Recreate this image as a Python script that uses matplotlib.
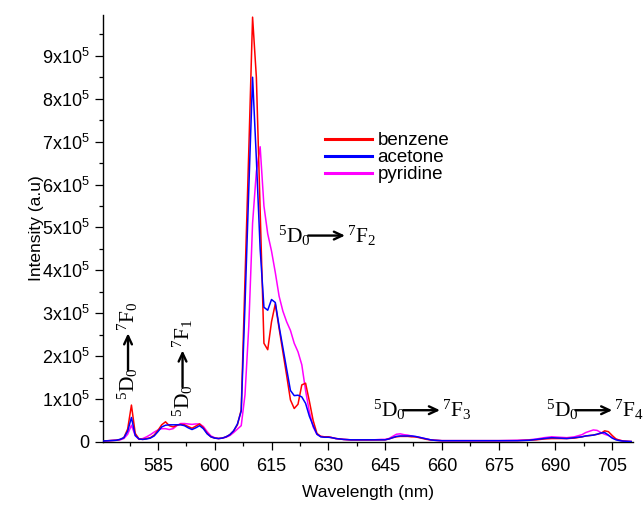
import matplotlib
matplotlib.use("Agg")
import matplotlib.pyplot as plt
from matplotlib.ticker import MultipleLocator, FixedLocator, FixedFormatter
from matplotlib.transforms import offset_copy

# emission spectra, intensity in units of 1e5
wavelength = [570, 572, 574, 575, 576, 577, 578, 579, 580,
              581, 582, 583, 584, 585, 586, 587, 588, 589, 590,
              591, 592, 593, 594, 595, 596, 597, 598, 599, 600,
              601, 602, 603, 604, 605, 606, 607, 608, 609, 610,
              611, 612, 613, 614, 615, 616, 617, 618, 619, 620,
              621, 622, 623, 624, 625, 626, 627, 628, 629, 630,
              631, 632, 634, 636, 638, 640, 642, 644,
              645, 646, 647, 648, 649, 650, 651, 652, 653, 654, 655, 656, 657, 658,
              660, 665, 670, 675, 680, 683, 685, 687, 689, 691, 693, 695, 697,
              698, 699, 700, 701, 702, 703, 704, 705, 706, 707, 708, 710]

benzene = [0.02, 0.03, 0.04, 0.06, 0.10, 0.30, 0.86, 0.20, 0.07,
           0.06, 0.08, 0.10, 0.16, 0.27, 0.40, 0.47, 0.38, 0.35, 0.39,
           0.41, 0.40, 0.36, 0.32, 0.37, 0.42, 0.33, 0.20, 0.12, 0.09,
           0.08, 0.09, 0.12, 0.17, 0.26, 0.40, 0.75, 3.8, 6.8, 9.9,
           8.5, 5.4, 2.3, 2.15, 2.8, 3.22, 2.65, 2.1, 1.55, 0.98,
           0.78, 0.88, 1.33, 1.37, 0.95, 0.50, 0.20, 0.13, 0.12, 0.12,
           0.10, 0.08, 0.06, 0.05, 0.05, 0.05, 0.05, 0.05,
           0.05, 0.07, 0.10, 0.12, 0.13, 0.13, 0.13, 0.12, 0.12, 0.10, 0.08, 0.06, 0.05, 0.04,
           0.03, 0.03, 0.03, 0.03, 0.03, 0.04, 0.05, 0.07, 0.08, 0.08, 0.08, 0.09, 0.12,
           0.14, 0.15, 0.16, 0.18, 0.20, 0.26, 0.24, 0.15, 0.07, 0.04, 0.02, 0.01]

acetone = [0.02, 0.03, 0.04, 0.06, 0.10, 0.25, 0.57, 0.15, 0.07,
           0.06, 0.07, 0.09, 0.14, 0.24, 0.35, 0.39, 0.40, 0.40, 0.40,
           0.40, 0.38, 0.33, 0.29, 0.33, 0.38, 0.31, 0.19, 0.12, 0.09,
           0.08, 0.09, 0.12, 0.17, 0.26, 0.42, 0.72, 3.2, 5.9, 8.5,
           6.6, 4.5, 3.14, 3.07, 3.32, 3.25, 2.7, 2.2, 1.7, 1.2,
           1.08, 1.09, 1.05, 0.90, 0.60, 0.38, 0.18, 0.12, 0.11, 0.11,
           0.10, 0.08, 0.06, 0.05, 0.05, 0.05, 0.05, 0.05,
           0.05, 0.07, 0.10, 0.13, 0.14, 0.14, 0.14, 0.14, 0.13, 0.11, 0.09, 0.07, 0.05, 0.04,
           0.03, 0.03, 0.03, 0.03, 0.03, 0.04, 0.06, 0.08, 0.10, 0.09, 0.08, 0.10, 0.12,
           0.14, 0.15, 0.16, 0.18, 0.21, 0.22, 0.16, 0.09, 0.05, 0.03, 0.02, 0.01]

pyridine = [0.02, 0.03, 0.04, 0.05, 0.08, 0.18, 0.39, 0.15, 0.06,
            0.08, 0.12, 0.17, 0.23, 0.28, 0.31, 0.31, 0.29, 0.31, 0.38,
            0.43, 0.43, 0.42, 0.41, 0.42, 0.42, 0.36, 0.24, 0.14, 0.10,
            0.08, 0.09, 0.11, 0.15, 0.22, 0.30, 0.38, 1.1, 2.7, 5.1,
            6.3, 6.88, 5.5, 4.85, 4.45, 3.95, 3.4, 3.05, 2.8, 2.6,
            2.3, 2.1, 1.8, 1.2, 0.70, 0.35, 0.18, 0.13, 0.12, 0.12,
            0.10, 0.08, 0.06, 0.05, 0.05, 0.05, 0.05, 0.06,
            0.06, 0.08, 0.13, 0.18, 0.19, 0.17, 0.16, 0.14, 0.12, 0.11, 0.09, 0.07, 0.05, 0.04,
            0.03, 0.03, 0.03, 0.03, 0.04, 0.05, 0.07, 0.10, 0.12, 0.11, 0.10, 0.12, 0.17,
            0.22, 0.25, 0.28, 0.27, 0.22, 0.18, 0.15, 0.10, 0.06, 0.04, 0.02, 0.01]

xticks = [585, 600, 615, 630, 645, 660, 675, 690, 705]
yticks = [0, 1, 2, 3, 4, 5, 6, 7, 8, 9]
ytick_labels = ["0"] + ["%dx10$^5$" % v for v in yticks[1:]]

# transition labels: (final level index, x, y, rotated?)
transitions = [
    ("0", 577.1, 0.98, True),
    ("1", 591.5, 0.58, True),
    ("2", 616.8, 4.81, False),
    ("3", 641.9, 0.74, False),
    ("4", 687.4, 0.74, False),
]

plt.rcParams['font.family'] = ['Liberation Sans', 'DejaVu Sans']
plt.rcParams['mathtext.fontset'] = 'stix'
plt.rcParams['mathtext.default'] = 'regular'

scale = 1e5
fig = plt.figure(figsize=(6.44, 5.05), dpi=100)
ax = fig.add_axes([0.16, 0.1248, 0.823, 0.8455])

ax.plot(wavelength, [v * scale for v in benzene], color='#ff0000', lw=1.1, label='benzene', zorder=2)
ax.plot(wavelength, [v * scale for v in acetone], color='#0000ff', lw=1.1, label='acetone', zorder=3)
ax.plot(wavelength, [v * scale for v in pyridine], color='#ff00ff', lw=1.1, label='pyridine', zorder=1)

ax.set_xlim(570.5, 710.5)
ax.set_ylim(0, 9.95e5)

ax.xaxis.set_major_locator(FixedLocator(xticks))
ax.xaxis.set_minor_locator(MultipleLocator(7.5))
ax.yaxis.set_major_locator(FixedLocator([v * scale for v in yticks]))
ax.yaxis.set_major_formatter(FixedFormatter(ytick_labels))
ax.yaxis.set_minor_locator(MultipleLocator(0.5 * scale))

ax.spines['top'].set_visible(False)
ax.spines['right'].set_visible(False)
for s in ['left', 'bottom']:
    ax.spines[s].set_linewidth(1.0)
ax.tick_params(which='major', direction='out', length=6, width=0.9, labelsize=13)
ax.tick_params(axis='x', which='major', pad=5.5)
ax.tick_params(which='minor', direction='out', length=3, width=0.9)

ax.set_xlabel('Wavelength (nm)', fontsize=12.5, labelpad=7)
ax.set_ylabel('Intensity (a.u)', fontsize=12.5, labelpad=-1)


# 5D0 -> 7Fn label built from two texts and an arrow (offsets in points)
def transition_label(n, x, y, rotated):
    low = r"$^5$D$_0$"
    up = r"$^7$F$_%s$" % n
    if rotated:
        off = lambda d: offset_copy(ax.transData, fig, x=0, y=d, units='points')
        kw = dict(rotation=90, ha='center', va='bottom')
    else:
        off = lambda d: offset_copy(ax.transData, fig, x=d, y=0, units='points')
        kw = dict(ha='left', va='center')
    ax.text(x, y * scale, low, transform=off(0), fontsize=15.5, family='Liberation Serif', **kw)
    ax.annotate('', xy=(x, y * scale), xycoords=off(48),
                xytext=(x, y * scale), textcoords=off(21.5),
                arrowprops=dict(arrowstyle='->,head_length=0.6,head_width=0.28',
                                lw=1.7, color='black', shrinkA=0, shrinkB=0))
    ax.text(x, y * scale, up, transform=off(49.5), fontsize=15.5, family='Liberation Serif', **kw)


for n, x, y, rot in transitions:
    transition_label(n, x, y, rot)

leg = ax.legend(loc='upper left', bbox_to_anchor=(325 / 644, 1 - 132 / 505),
                bbox_transform=fig.transFigure, frameon=False, fontsize=13.5,
                borderpad=0, borderaxespad=0, labelspacing=0.0,
                handlelength=2.5, handletextpad=0.3)
for line in leg.get_lines():
    line.set_linewidth(2.2)

fig.savefig('out.png', dpi=100)
